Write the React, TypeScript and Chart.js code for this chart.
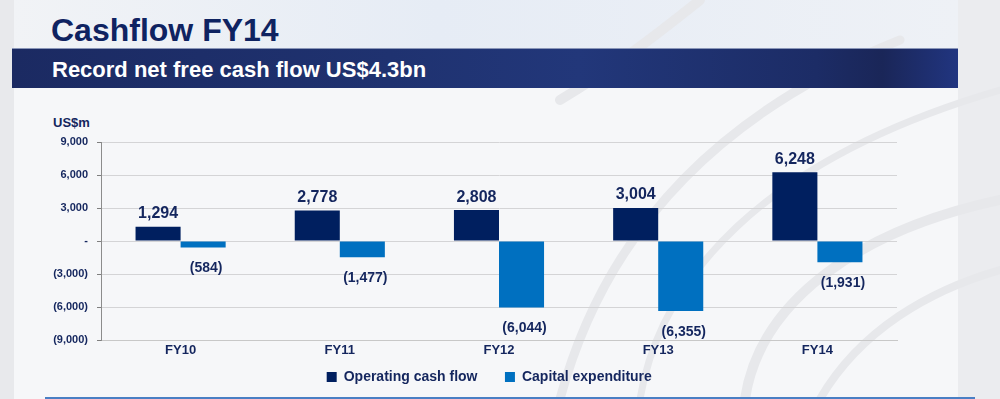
import React, { useEffect, useRef } from "react";
import { Chart, registerables } from "chart.js";

Chart.register(...registerables);

const categories = ["FY10", "FY11", "FY12", "FY13", "FY14"];
const operatingCashFlow = [1294, 2778, 2808, 3004, 6248];
const capitalExpenditure = [-584, -1477, -6044, -6355, -1931];
const yTicks = [-9000, -6000, -3000, 0, 3000, 6000, 9000];

const NAVY_TEXT = "#14265e";
const FONT = "'Liberation Sans', Arial, sans-serif";

const fmt = (v: number) => {
  if (v === 0) return "-";
  const s = Math.abs(v).toLocaleString("en-US");
  return v < 0 ? `(${s})` : s;
};

const valueLabels = {
  id: "valueLabels",
  afterDatasetsDraw(chart: any) {
    const ctx = chart.ctx;
    ctx.save();
    ctx.fillStyle = NAVY_TEXT;
    ctx.textAlign = "center";
    ctx.textBaseline = "middle";
    chart.data.datasets.forEach((ds: any, di: number) => {
      const meta = chart.getDatasetMeta(di);
      meta.data.forEach((el: any, i: number) => {
        const v = ds.data[i];
        if (v >= 0) {
          ctx.font = `bold 16px ${FONT}`;
          ctx.fillText(fmt(v), el.x, el.y - 13);
        } else {
          ctx.font = `bold 14px ${FONT}`;
          ctx.fillText(fmt(v), el.x + 3, el.y + 21);
        }
      });
    });
    ctx.restore();
  },
};

function Swooshes() {
  return (
    <svg
      width={1000}
      height={399}
      style={{ position: "absolute", left: 0, top: 0 }}
    >
      <g fill="none" stroke="#e7e8eb" strokeLinecap="round">
        <path d="M560 399 C 600 250, 700 120, 900 40" strokeWidth={9} />
        <path d="M640 399 C 660 280, 760 160, 1000 90" strokeWidth={7} />
        <path d="M745 399 C 760 300, 860 230, 1000 200" strokeWidth={10} />
        <path d="M820 399 C 860 330, 930 290, 1000 270" strokeWidth={8} />
        <path d="M700 0 C 650 40, 610 70, 560 100" strokeWidth={10} />
      </g>
    </svg>
  );
}

export default function App() {
  const canvasRef = useRef<HTMLCanvasElement | null>(null);

  useEffect(() => {
    if (!canvasRef.current) return;
    const chart = new Chart(canvasRef.current, {
      type: "bar",
      data: {
        labels: categories,
        datasets: [
          {
            label: "Operating cash flow",
            data: operatingCashFlow,
            backgroundColor: "#001f5f",
            borderWidth: 0,
            categoryPercentage: 0.566,
            barPercentage: 1,
          },
          {
            label: "Capital expenditure",
            data: capitalExpenditure,
            backgroundColor: "#0070c0",
            borderWidth: 0,
            categoryPercentage: 0.566,
            barPercentage: 1,
          },
        ],
      },
      options: {
        animation: false,
        responsive: true,
        maintainAspectRatio: false,
        layout: { padding: { top: 42, right: 103, left: 0, bottom: 0 } },
        plugins: {
          tooltip: { enabled: false },
          legend: {
            position: "bottom",
            fullSize: false,
            labels: {
              boxWidth: 10,
              boxHeight: 10,
              padding: 8,
              color: NAVY_TEXT,
              font: { family: FONT, size: 14, weight: "bold" },
              generateLabels: (chart: any) => {
                const items = (Chart as any).defaults.plugins.legend.labels.generateLabels(chart);
                const pad = "\u00A0\u00A0\u00A0\u00A0\u00A0";
                return items.map((it: any) => ({ ...it, text: it.text + pad }));
              },
            },
          },
        },
        scales: {
          x: {
            grid: { display: false, drawTicks: false },
            border: { display: true, color: "#c8c8c8" },
            ticks: {
              color: NAVY_TEXT,
              padding: 3,
              font: { family: FONT, size: 13, weight: "bold" },
            },
            afterFit: (s: any) => {
              s.height = 22;
            },
          },
          y: {
            min: -9000,
            max: 9000,
            afterBuildTicks: (s: any) => {
              s.ticks = yTicks.map((v) => ({ value: v }));
            },
            grid: {
              color: "#d4d4d6",
              tickColor: "#7f7f7f",
              tickLength: 4,
            },
            border: { display: true, color: "#8c8c8c" },
            ticks: {
              color: NAVY_TEXT,
              padding: 9,
              font: { family: FONT, size: 11, weight: "bold" },
              callback: (v: any) => fmt(Number(v)),
            },
            afterFit: (s: any) => {
              s.width = 101;
            },
          },
        },
      },
      plugins: [valueLabels],
    });
    return () => chart.destroy();
  }, []);

  return (
    <div
      style={{
        position: "fixed",
        left: 0,
        top: 0,
        width: 1000,
        height: 399,
        overflow: "hidden",
        background: "#f6f7f9",
        fontFamily: FONT,
      }}
    >
      <div
        style={{
          position: "absolute",
          left: 0,
          top: 0,
          width: 14,
          height: 399,
          background: "#e8e9ec",
        }}
      />
      <div
        style={{
          position: "absolute",
          left: 958,
          top: 0,
          width: 42,
          height: 399,
          background: "#ebecef",
        }}
      />
      <div
        style={{
          position: "absolute",
          left: 14,
          top: 0,
          width: 944,
          height: 48,
          background: "linear-gradient(90deg, #f1f3f6 0%, #e6ecf5 45%, #eef1f6 100%)",
        }}
      />
      <Swooshes />
      <div
        style={{
          position: "absolute",
          left: 51,
          top: 12,
          fontSize: 32,
          fontWeight: "bold",
          color: "#0f2361",
          lineHeight: "36px",
          whiteSpace: "nowrap",
        }}
      >
        Cashflow FY14
      </div>
      <div
        style={{
          position: "absolute",
          left: 12,
          top: 48,
          width: 946,
          height: 40,
          background:
            "linear-gradient(90deg, #1b2a62 0%, #1f3270 40%, #22377a 60%, #1c2c66 85%, #1a2658 92%, #213580 100%)",
          borderTop: "1px solid #8a96b8",
          boxSizing: "border-box",
        }}
      />
      <div
        style={{
          position: "absolute",
          left: 52,
          top: 57,
          fontSize: 22,
          fontWeight: "bold",
          color: "#ffffff",
          lineHeight: "25px",
          whiteSpace: "nowrap",
        }}
      >
        Record net free cash flow US$4.3bn
      </div>
      <div
        style={{
          position: "absolute",
          left: 53,
          top: 115,
          fontSize: 13,
          fontWeight: "bold",
          color: NAVY_TEXT,
          lineHeight: "15px",
        }}
      >
        US$m
      </div>
      <div
        style={{
          position: "absolute",
          left: 0,
          top: 100,
          width: 1000,
          height: 294,
        }}
      >
        <canvas ref={canvasRef} />
      </div>
      <div
        style={{
          position: "absolute",
          left: 45,
          top: 397,
          width: 930,
          height: 2,
          background: "#4a7fc4",
        }}
      />
    </div>
  );
}
